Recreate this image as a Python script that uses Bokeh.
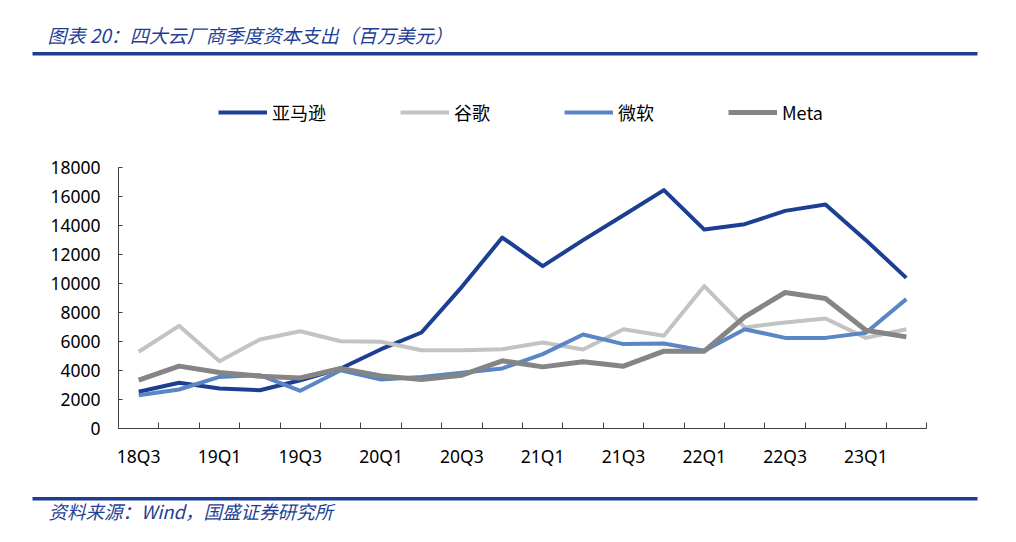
from bokeh.plotting import figure
from bokeh.models import (ColumnDataSource, Label, Legend, LegendItem, FixedTicker,
                          BoxAnnotation, Range1d, LinearAxis)
from bokeh.embed import file_html
from bokeh.resources import INLINE

# ---------------- data ----------------
quarters = ["18Q3", "18Q4", "19Q1", "19Q2", "19Q3", "19Q4", "20Q1", "20Q2", "20Q3", "20Q4",
            "21Q1", "21Q2", "21Q3", "21Q4", "22Q1", "22Q2", "22Q3", "22Q4", "23Q1", "23Q2"]
amazon = [2530, 3150, 2760, 2640, 3330, 4140, 5470, 6620, 9770, 13170,
          11200, 12990, 14710, 16440, 13720, 14090, 15010, 15450, 12990, 10390]
google = [5290, 7080, 4640, 6140, 6710, 6020, 5980, 5400, 5400, 5470,
          5930, 5450, 6850, 6390, 9820, 6970, 7310, 7590, 6250, 6850]
msft = [2300, 2690, 3560, 3680, 2600, 4020, 3380, 3560, 3840, 4140,
        5130, 6480, 5820, 5860, 5360, 6850, 6250, 6250, 6600, 8920]
meta = [3330, 4300, 3860, 3610, 3490, 4140, 3630, 3380, 3680, 4670,
        4250, 4600, 4300, 5330, 5330, 7700, 9380, 8970, 6780, 6320]
series_names = ["亚马逊", "谷歌", "微软", "Meta"]
y_ticks = list(range(0, 18001, 2000))
y_max = 18000
title_text = "图表 20：四大云厂商季度资本支出（百万美元）"
source_text = "资料来源：Wind，国盛证券研究所"

# ---------------- styles / layout ----------------
colors = ["#1C3F94", "#C3C3C3", "#5B86C5", "#858585"]
widths = [4, 4, 4, 5]
CJK = "Noto Sans CJK SC"
NUM = "Noto Sans"
RULE = "#1C3F94"
TEXT_BLUE = "#1F3F94"
AXIS = "#404040"

W, H = 1000, 526
# plot area (page pixels); the frame covers the whole canvas and the axes are
# pinned at fixed data locations so that the chart sits where it should
PL, PR, PT, PB = 118, 926, 167, 428
n = len(quarters)
px_per_x = (PR - PL) / n
px_per_y = (PB - PT) / y_max
x0 = -0.5 - PL / px_per_x
x1 = -0.5 + (W - PL) / px_per_x
y0 = -(H - PB) / px_per_y
y1 = PB / px_per_y

xs = list(range(n))
src = ColumnDataSource(dict(x=xs, amazon=amazon, google=google, msft=msft, meta=meta))

p = figure(width=W, height=H, output_backend="svg", toolbar_location=None,
           x_range=Range1d(x0, x1), y_range=Range1d(y0, y1),
           x_axis_location=None, y_axis_location=None,
           min_border=0, min_border_left=0, min_border_right=0,
           min_border_top=0, min_border_bottom=0)
p.title.visible = False
p.background_fill_color = "white"
p.border_fill_color = "white"
p.outline_line_color = None
p.grid.visible = False

renderers = []
for key, c, w in zip(["amazon", "google", "msft", "meta"], colors, widths):
    r = p.line("x", key, source=src, line_color=c, line_width=w, line_join="round")
    renderers.append(r)

# y axis pinned at the left edge of the plot area
ya = LinearAxis(fixed_location=-0.5, bounds=(0, y_max),
                ticker=FixedTicker(ticks=y_ticks),
                major_tick_in=4, major_tick_out=0, minor_tick_in=0, minor_tick_out=0,
                major_label_standoff=18, major_label_text_font=NUM,
                major_label_text_font_size="17.5px", major_label_text_color="#000000",
                axis_line_color=AXIS, major_tick_line_color=AXIS)
p.add_layout(ya, "left")

# x axis pinned at y = 0: labels every other quarter, ticks on boundaries
label_pos = xs[::2]
xa = LinearAxis(fixed_location=0, bounds=(-0.5, n - 0.5),
                ticker=FixedTicker(ticks=label_pos, minor_ticks=[i - 0.5 for i in range(n + 1)]),
                major_label_overrides={i: quarters[i] for i in label_pos},
                major_tick_in=0, major_tick_out=0, minor_tick_in=6, minor_tick_out=0,
                major_label_standoff=15, major_label_text_font=NUM,
                major_label_text_font_size="17.5px", major_label_text_color="#000000",
                axis_line_color=AXIS, minor_tick_line_color=AXIS)
p.add_layout(xa, "below")

# legend (location = bottom-left corner, measured from canvas bottom-left)
legend = Legend(items=[LegendItem(label=nm, renderers=[r]) for nm, r in zip(series_names, renderers)],
                location=(218, H - 125), orientation="horizontal",
                glyph_width=49, glyph_height=26, label_height=26, label_standoff=5,
                padding=0, margin=0, spacing=74,
                label_text_font=CJK, label_text_font_size="18px",
                label_text_color="#000000",
                border_line_color=None, background_fill_alpha=0)
p.add_layout(legend, "center")

# title, source and rules (screen units, y measured from the canvas bottom)
p.add_layout(Label(x=47, y=H - 33.5, x_units="screen", y_units="screen",
                   text=title_text, text_font=CJK, text_font_size="19px",
                   text_font_style="italic", text_color=TEXT_BLUE,
                   text_baseline="middle", text_align="left"))
p.add_layout(Label(x=48, y=H - 510.5, x_units="screen", y_units="screen",
                   text=source_text, text_font=CJK, text_font_size="18.5px",
                   text_font_style="italic", text_color=TEXT_BLUE,
                   text_baseline="middle", text_align="left"))
for yc in (53.3, 498.3):
    p.add_layout(BoxAnnotation(left=32, right=977, top=H - (yc - 1.7), bottom=H - (yc + 1.7),
                               left_units="screen", right_units="screen",
                               top_units="screen", bottom_units="screen",
                               fill_color=RULE, fill_alpha=1, line_color=None))

open("out.html", "w").write(file_html(p, INLINE))
